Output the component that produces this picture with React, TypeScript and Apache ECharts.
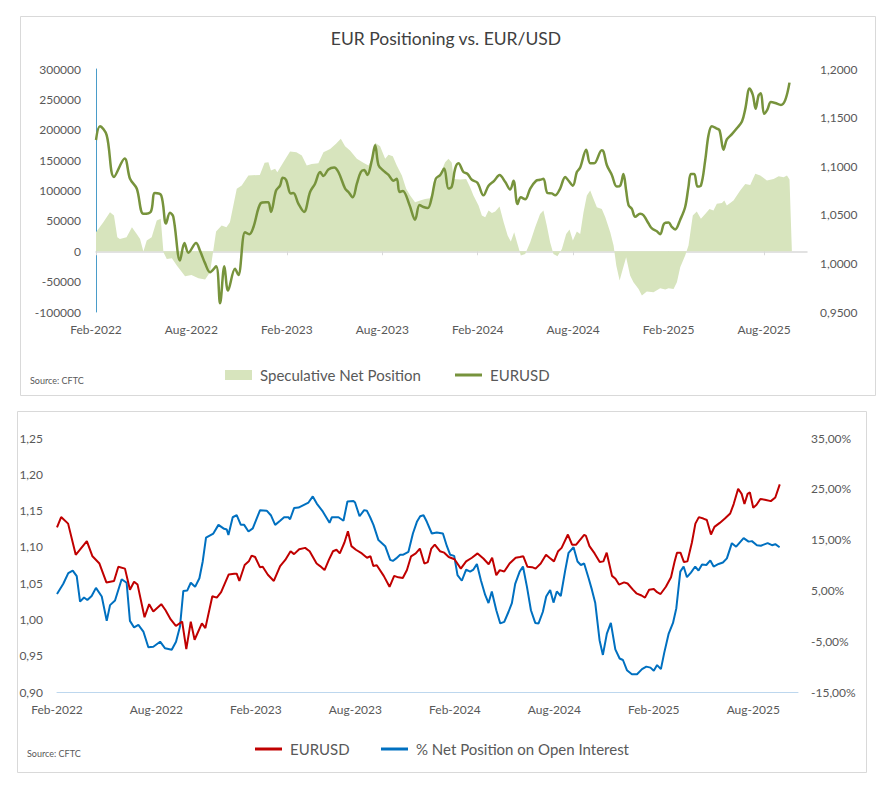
import { useEffect, useRef } from "react";
import * as echarts from "echarts";

// x values are months elapsed since 1 Feb 2022
const xTickMonths = [0, 6, 12, 18, 24, 30, 36, 42];
const xTickLabels = ["Feb-2022", "Aug-2022", "Feb-2023", "Aug-2023", "Feb-2024", "Aug-2024", "Feb-2025", "Aug-2025"];

const eurusd: [number, number][] = [
  [0, 1.127], [0.25, 1.141], [0.67, 1.132], [1.13, 1.089], [1.8, 1.108], [2.14, 1.087], [2.56, 1.077],
  [2.98, 1.051], [3.44, 1.053], [3.7, 1.0725], [4.1, 1.07], [4.4, 1.041], [4.65, 1.052], [4.86, 1.048],
  [5.28, 1.003], [5.56, 1.021], [5.81, 1.011], [6.29, 1.021], [6.54, 1.013], [6.86, 1.0], [7.17, 0.991],
  [7.55, 0.997], [7.8, 0.959], [8.07, 0.997], [8.3, 0.972], [8.74, 0.9945], [8.95, 0.988], [9.37, 1.032],
  [9.64, 1.03], [9.9, 1.0375], [10.36, 1.062], [10.69, 1.063], [10.84, 1.063], [11.0, 1.053], [11.32, 1.075],
  [11.57, 1.08], [11.74, 1.088], [11.95, 1.086], [12.24, 1.072], [12.41, 1.0725], [12.72, 1.0615], [13.08, 1.053],
  [13.46, 1.0735], [13.77, 1.082], [14.09, 1.094], [14.3, 1.09], [14.61, 1.0966], [14.97, 1.0986], [15.24, 1.094],
  [15.66, 1.077], [15.87, 1.0735], [16.14, 1.068], [16.4, 1.082], [16.65, 1.094], [16.86, 1.096], [17.06, 1.091],
  [17.34, 1.106], [17.55, 1.1216], [17.76, 1.101], [18.03, 1.096], [18.39, 1.091], [18.7, 1.085], [18.91, 1.087],
  [19.08, 1.0735], [19.29, 1.0746], [19.71, 1.06], [20.06, 1.045], [20.34, 1.06], [20.59, 1.058], [20.86, 1.057],
  [21.11, 1.068], [21.36, 1.087], [21.64, 1.091], [21.89, 1.0976], [22.16, 1.077], [22.37, 1.079], [22.58, 1.0976],
  [22.79, 1.103], [23.1, 1.094], [23.36, 1.092], [23.63, 1.086], [23.98, 1.083], [24.36, 1.07], [24.68, 1.08],
  [25.03, 1.085], [25.37, 1.091], [25.72, 1.084], [26.04, 1.076], [26.25, 1.085], [26.5, 1.061], [26.71, 1.068],
  [26.98, 1.066], [27.3, 1.077], [27.67, 1.085], [27.92, 1.086], [28.13, 1.087], [28.38, 1.0725], [28.66, 1.072],
  [28.87, 1.07], [29.18, 1.077], [29.5, 1.089], [29.71, 1.085], [29.98, 1.08], [30.23, 1.094], [30.44, 1.0986],
  [30.82, 1.117], [31.07, 1.103], [31.32, 1.103], [31.8, 1.1165], [31.91, 1.115], [32.12, 1.101], [32.43, 1.091],
  [32.74, 1.079], [32.96, 1.08], [33.16, 1.092], [33.33, 1.075], [33.48, 1.06], [33.69, 1.056], [33.9, 1.048],
  [34.21, 1.051], [34.42, 1.0495], [34.74, 1.041], [34.95, 1.036], [35.26, 1.033], [35.47, 1.03], [35.72, 1.041],
  [36.0, 1.042], [36.2, 1.0375], [36.41, 1.035], [36.73, 1.045], [37.04, 1.058], [37.25, 1.079], [37.4, 1.092],
  [37.61, 1.092], [37.82, 1.079], [38.03, 1.08], [38.3, 1.106], [38.51, 1.132], [38.72, 1.141], [38.99, 1.139],
  [39.2, 1.137], [39.45, 1.117], [39.66, 1.1275], [39.98, 1.133], [40.29, 1.139], [40.61, 1.146], [40.82, 1.159],
  [41.09, 1.18], [41.3, 1.173], [41.47, 1.159], [41.66, 1.173], [41.8, 1.175], [42.0, 1.154], [42.2, 1.158],
  [42.43, 1.166], [42.7, 1.165], [43.06, 1.163], [43.33, 1.168], [43.6, 1.186],
];

const netPosition: [number, number][] = [
  [0, 31300], [0.46, 47800], [0.88, 64200], [1.13, 58700], [1.34, 23100], [1.5, 20300], [1.92, 23100],
  [2.26, 39500], [2.56, 28500], [2.77, 20300], [2.98, -500], [3.19, 17600], [3.5, 23100], [3.82, 50500],
  [4.07, 53300], [4.24, -1600], [4.45, -12600], [4.77, -11500], [5.08, -23600], [5.6, -41200], [6.0, -39000],
  [6.44, -44500], [6.86, -46700], [7.17, -34600], [7.42, 9300], [7.55, 32400], [7.9, 42300], [8.2, 39500],
  [8.42, 47800], [8.85, 102700], [9.16, 108200], [9.58, 124600], [10.3, 125700], [10.6, 145500], [10.84, 146600],
  [11.0, 132900], [11.26, 135600], [11.4, 130100], [11.78, 146600], [12.2, 164200], [12.6, 163100], [12.94, 157600],
  [13.25, 141100], [13.56, 143800], [13.98, 144900], [14.3, 163100], [14.72, 168500], [15.09, 176800], [15.39, 185000],
  [15.66, 172900], [15.97, 165800], [16.4, 152100], [16.81, 145500], [17.13, 141100], [17.34, 152100], [17.55, 178400],
  [17.86, 172900], [18.18, 152100], [18.39, 158700], [18.66, 156500], [18.91, 141100], [19.23, 124600], [19.5, 102700],
  [19.75, 91700], [20.06, 80700], [20.38, 83400], [20.69, 86200], [21.0, 87300], [21.32, 110000], [21.64, 127000],
  [21.95, 146600], [22.16, 152100], [22.37, 145500], [22.48, 119100], [22.9, 118000], [23.27, 119100], [23.52, 105400],
  [23.73, 91700], [24.05, 75200], [24.26, 58700], [24.47, 56000], [24.68, 67000], [24.89, 63100], [25.1, 65300],
  [25.37, 73600], [25.63, 47800], [25.88, 25800], [26.08, 15900], [26.29, 31300], [26.5, 12100], [26.71, -7100],
  [26.98, -4400], [27.3, 14800], [27.61, 39500], [27.92, 61500], [28.13, 67000], [28.34, 42300], [28.55, 14800],
  [28.76, -4400], [29.01, -8200], [29.29, 3800], [29.56, 28500], [29.77, 35700], [29.98, 17600], [30.23, 32400],
  [30.44, 28500], [30.65, 64200], [30.86, 91700], [31.07, 99900], [31.28, 86200], [31.49, 72500], [31.8, 69700],
  [32.02, 56000], [32.33, 31300], [32.54, 9300], [32.71, -23600], [32.92, -48300], [33.12, -29100], [33.33, -9900],
  [33.58, -40100], [33.79, -51100], [34.11, -62000], [34.32, -73000], [34.63, -66400], [35.05, -67500], [35.47, -60900],
  [35.79, -63100], [36.0, -60900], [36.31, -62000], [36.52, -51100], [36.73, -26400], [37.04, -7100], [37.25, 9300],
  [37.52, 58700], [37.77, 65300], [38.03, 53300], [38.3, 61500], [38.57, 69700], [38.82, 67000], [39.03, 78000],
  [39.35, 79600], [39.5, 83400], [39.66, 75200], [40.08, 83400], [40.5, 99900], [40.82, 110900], [41.13, 109200],
  [41.45, 127400], [41.76, 124600], [42.18, 116400], [42.6, 119100], [42.92, 123500], [43.23, 121900], [43.44, 124600],
  [43.6, 118000], [43.75, 0],
];

// % net position on open interest (percent)
const pctNetOI: [number, number][] = [
  [0, 4.3], [0.38, 6.3], [0.68, 8.4], [0.95, 8.9], [1.19, 7.8], [1.39, 2.8], [1.63, 3.6], [1.83, 3.1], [2.09, 3.9],
  [2.35, 5.5], [2.7, 3.8], [3.0, -1.0], [3.2, 2.1], [3.5, 3.0], [3.9, 7.2], [4.2, 6.5], [4.4, -1.0], [4.65, -2.3],
  [4.91, -1.8], [5.21, -3.1], [5.51, -6.2], [5.81, -6.1], [6.22, -5.1], [6.52, -6.4], [6.92, -6.7], [7.18, -5.1],
  [7.42, -2.1], [7.62, 4.9], [7.86, 5.0], [8.07, 6.5], [8.33, 5.7], [8.59, 7.4], [8.79, 10.7], [8.99, 15.4],
  [9.43, 16.2], [9.74, 17.9], [10.04, 17.2], [10.24, 17.0], [10.34, 15.9], [10.6, 19.4], [10.84, 19.8], [11.09, 17.9],
  [11.29, 17.9], [11.55, 16.6], [11.81, 17.2], [12.05, 19.2], [12.25, 20.8], [12.65, 20.7], [12.9, 19.8], [13.16, 17.9],
  [13.46, 18.7], [13.7, 19.4], [13.96, 19.4], [14.06, 19.0], [14.3, 21.2], [14.57, 21.3], [14.87, 21.8], [15.17, 22.3],
  [15.43, 23.5], [15.67, 22.1], [16.04, 20.5], [16.24, 19.4], [16.44, 18.3], [16.58, 19.4], [16.98, 19.4], [17.28, 18.7],
  [17.52, 22.5], [17.88, 22.6], [17.98, 22.3], [18.25, 19.6], [18.53, 20.8], [18.69, 20.7], [18.89, 19.4], [19.09, 17.9],
  [19.39, 14.9], [19.8, 13.7], [20.1, 11.0], [20.26, 10.8], [20.46, 11.3], [20.7, 12.0], [20.86, 12.0], [21.2, 12.6],
  [21.47, 16.2], [21.71, 18.5], [21.91, 19.6], [22.11, 19.8], [22.31, 18.5], [22.61, 16.2], [22.91, 16.4], [23.28, 16.2],
  [23.52, 13.7], [23.72, 12.0], [23.96, 11.8], [24.16, 8.0], [24.42, 6.9], [24.68, 9.1], [24.92, 8.7], [25.12, 9.1],
  [25.33, 10.2], [25.57, 7.0], [25.83, 4.1], [26.03, 2.5], [26.23, 4.8], [26.5, 1.1], [26.74, -1.5], [26.98, -1.2],
  [27.24, 0.8], [27.44, 2.5], [27.64, 6.3], [27.91, 8.7], [28.11, 9.7], [28.35, 5.7], [28.59, 1.1], [28.85, -1.4],
  [29.05, -1.5], [29.31, 0.8], [29.51, 3.8], [29.75, 5.1], [29.95, 2.6], [30.15, 4.8], [30.39, 3.9], [30.66, 9.0],
  [30.86, 12.4], [31.16, 13.5], [31.4, 10.7], [31.6, 10.0], [31.8, 10.3], [32.07, 7.4], [32.27, 5.1], [32.47, 2.5],
  [32.73, -4.8], [32.93, -7.7], [33.17, -3.5], [33.41, -1.4], [33.68, -6.6], [33.94, -8.4], [34.14, -8.7], [34.38, -10.7],
  [34.68, -11.5], [34.99, -11.5], [35.29, -10.5], [35.55, -10.0], [35.8, -10.2], [36.0, -10.8], [36.2, -9.7], [36.43, -10.5],
  [36.63, -7.3], [36.9, -3.5], [37.16, -1.4], [37.36, 1.5], [37.6, 8.7], [37.8, 9.7], [38.0, 7.6], [38.24, 8.5],
  [38.5, 9.7], [38.7, 8.9], [38.91, 10.1], [39.17, 10.0], [39.41, 10.9], [39.61, 9.7], [39.91, 10.2], [40.17, 10.5],
  [40.41, 11.3], [40.71, 14.3], [40.97, 13.6], [41.42, 15.3], [41.72, 14.6], [41.92, 14.7], [42.22, 13.9], [42.46, 13.8],
  [42.87, 14.3], [43.13, 13.9], [43.33, 14.1], [43.59, 13.5],
];

const FONT = "Lato";
const LABEL = "#595959";

function monthLabel(v: number) {
  const r = Math.round(v);
  const i = xTickMonths.indexOf(r);
  return Math.abs(v - r) < 1e-6 && i >= 0 ? xTickLabels[i] : "";
}

export default function App() {
  const ref = useRef<HTMLDivElement>(null);
  useEffect(() => {
    if (!ref.current) return;
    const chart = echarts.init(ref.current, undefined, { renderer: "svg" });
    const xMax = 44.7;
    const axisLabelBase = { color: LABEL, fontSize: 12, fontFamily: FONT };
    const legendText = { color: LABEL, fontSize: 15, fontFamily: FONT, padding: [0, 0, 0, 3] };
    const lineLegend = (left: number, top: number, name: string, color: string) => ({
      left, top, itemWidth: 27, itemHeight: 3, textStyle: legendText, selectedMode: false,
      data: [{ name, icon: "rect", itemStyle: { color } }],
    });
    const option: any = {
      animation: false,
      textStyle: { fontFamily: FONT },
      title: {
        text: "EUR Positioning vs. EUR/USD",
        left: "center",
        top: 24,
        textStyle: { fontSize: 17.5, fontWeight: "normal", color: "#404040", fontFamily: FONT },
      },
      graphic: [
        { type: "rect", shape: { x: 20.5, y: 16.5, width: 855, height: 379 }, style: { fill: "none", stroke: "#D9D9D9", lineWidth: 1 }, silent: true },
        { type: "rect", shape: { x: 17.5, y: 411.5, width: 849, height: 361 }, style: { fill: "none", stroke: "#D9D9D9", lineWidth: 1 }, silent: true },
        { type: "text", left: 30, top: 376, style: { text: "Source: CFTC", fontSize: 9, fill: LABEL, fontFamily: FONT } },
        { type: "text", left: 27, top: 749, style: { text: "Source: CFTC", fontSize: 9, fill: LABEL, fontFamily: FONT } },
      ],
      legend: [
        {
          left: 220, top: 362.5, itemWidth: 27, itemHeight: 10, textStyle: legendText, selectedMode: false,
          data: [{ name: "Speculative Net Position", icon: "rect", itemStyle: { color: "#D7E4BD" } }],
        },
        lineLegend(450, 362.5, "EURUSD", "#77933C"),
        lineLegend(250, 736.5, "EURUSD", "#C00000"),
        lineLegend(376, 736.5, "% Net Position on Open Interest", "#0070C0"),
      ],
      grid: [
        { left: 96, right: 85, top: 69, bottom: 478 },
        { left: 57, right: 94, top: 438, bottom: 98 },
      ],
      xAxis: [
        {
          gridIndex: 0, type: "value", min: 0, max: xMax, interval: 6,
          axisLine: { show: false, onZero: false }, axisTick: { show: false }, splitLine: { show: false },
          axisLabel: { ...axisLabelBase, margin: 11, customValues: xTickMonths, formatter: monthLabel },
        },
        {
          gridIndex: 0, type: "value", min: 0, max: xMax, interval: 6, position: "top",
          axisLine: { show: true, onZero: true, onZeroAxisIndex: 0, lineStyle: { color: "#D9D9D9", width: 1.5 } },
          axisTick: { show: true, inside: true, length: 4, customValues: xTickMonths, lineStyle: { color: "#D9D9D9" } },
          axisLabel: { show: false }, splitLine: { show: false },
        },
        {
          gridIndex: 1, type: "value", min: 0, max: xMax, interval: 6,
          axisLine: { show: true, onZero: false, lineStyle: { color: "#BDD7EE", width: 1 } },
          axisTick: { show: false }, splitLine: { show: false },
          axisLabel: { ...axisLabelBase, margin: 11, customValues: xTickMonths, formatter: monthLabel },
        },
      ],
      yAxis: [
        {
          gridIndex: 0, type: "value", position: "left", min: -100000, max: 300000, interval: 50000,
          axisLine: { show: true, lineStyle: { color: "#4A9CC9", width: 1 } }, axisTick: { show: false }, splitLine: { show: false },
          axisLabel: { ...axisLabelBase, margin: 15, formatter: (v: number) => String(Math.round(v)) },
        },
        {
          gridIndex: 0, type: "value", position: "right", min: 0.95, max: 1.2, interval: 0.05,
          axisLine: { show: false }, axisTick: { show: false }, splitLine: { show: false },
          axisLabel: { ...axisLabelBase, margin: 13, formatter: (v: number) => v.toFixed(4).replace(".", ",") },
        },
        {
          gridIndex: 1, type: "value", position: "left", min: 0.9, max: 1.25, interval: 0.05,
          axisLine: { show: false }, axisTick: { show: false }, splitLine: { show: false },
          axisLabel: { ...axisLabelBase, margin: 14, formatter: (v: number) => v.toFixed(2).replace(".", ",") },
        },
        {
          gridIndex: 1, type: "value", position: "right", min: -15, max: 35, interval: 10,
          axisLine: { show: false }, axisTick: { show: false }, splitLine: { show: false },
          axisLabel: { ...axisLabelBase, margin: 13, formatter: (v: number) => v.toFixed(2).replace(".", ",") + "%" },
        },
      ],
      series: [
        {
          name: "Speculative Net Position", type: "line", xAxisIndex: 0, yAxisIndex: 0, data: netPosition,
          symbol: "none", lineStyle: { width: 0, color: "#D7E4BD" }, itemStyle: { color: "#D7E4BD" },
          areaStyle: { color: "#D7E4BD", opacity: 1 }, z: 1,
        },
        {
          name: "EURUSD", type: "line", xAxisIndex: 0, yAxisIndex: 1, data: eurusd, smooth: 0.35,
          symbol: "none", lineStyle: { width: 2.5, color: "#77933C" }, itemStyle: { color: "#77933C" }, z: 3,
        },
        {
          name: "EURUSD", type: "line", xAxisIndex: 2, yAxisIndex: 2, data: eurusd,
          symbol: "none", lineStyle: { width: 2, color: "#C00000" }, itemStyle: { color: "#C00000" }, z: 3,
        },
        {
          name: "% Net Position on Open Interest", type: "line", xAxisIndex: 2, yAxisIndex: 3, data: pctNetOI,
          symbol: "none", lineStyle: { width: 2, color: "#0070C0" }, itemStyle: { color: "#0070C0" }, z: 2,
        },
      ],
    };
    chart.setOption(option);
    return () => chart.dispose();
  }, []);
  return <div ref={ref} style={{ position: "absolute", left: 0, top: 0, width: 892, height: 790 }} />;
}
